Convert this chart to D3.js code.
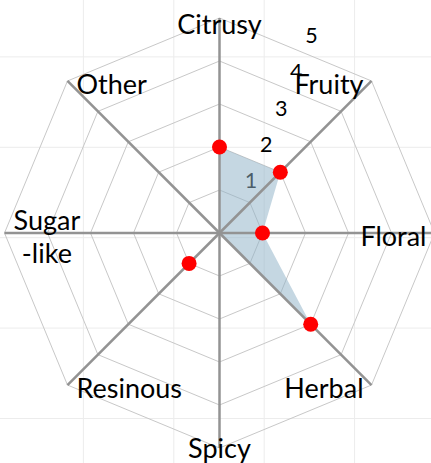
<!DOCTYPE html>
<html>
<head>
<meta charset="utf-8">
<script src="https://cdn.jsdelivr.net/npm/d3@7"></script>
<style>
  html, body { margin: 0; padding: 0; background: #fff; }
  svg { display: block; font-family: Lato, "Open Sans", sans-serif; }
</style>
</head>
<body>
<div id="chart"></div>
<script>
// flavour wheel: 8 axes, scores 0..5
const categories = ["Citrusy", "Fruity", "Floral", "Herbal", "Spicy", "Resinous", "Sugar\n-like", "Other"]
const areaValues = [2, 2, 1, 3, 0, 0, 0, 0]          // the shaded profile
const dotValues = [2, 2, 1, 3, null, 1, null, null]   // red markers (null = none)
const levels = [1, 2, 3, 4, 5]

const width = 431
const height = 463
const cx = 219.5, cy = 233
const maxValue = 5
const radius = 215

const svg = d3.select("#chart").append("svg")
    .attr("width", width)
    .attr("height", height)

// faint page grid behind everything
const bg = svg.append("g")
d3.range(-7, width, 90.4).forEach(x => {
    bg.append("line").attr("x1", x).attr("x2", x).attr("y1", 0).attr("y2", height)
})
d3.range(-33.5, height, 90.4).forEach(y => {
    bg.append("line").attr("x1", 0).attr("x2", width).attr("y1", y).attr("y2", y)
})
bg.selectAll("line").attr("stroke", "#ececec").attr("stroke-width", 1)

const r = d3.scaleLinear().domain([0, maxValue]).range([0, radius])
const angle = i => i * 2 * Math.PI / categories.length
const pt = (i, v) => [cx + r(v) * Math.sin(angle(i)), cy - r(v) * Math.cos(angle(i))]

const g = svg.append("g")

// octagon rings
g.selectAll(".ring")
    .data(levels)
    .join("polygon")
    .attr("class", "ring")
    .attr("points", l => categories.map((c, i) => pt(i, l).join(",")).join(" "))
    .attr("fill", "none")
    .attr("stroke", "#c8c8c8")
    .attr("stroke-width", 1)

// level numbers, set along the gap between first two axes
const rLabel = d3.scaleLinear().domain([0, maxValue]).range([0, 197])
const labelAngle = Math.PI / 8
g.selectAll(".level")
    .data(levels)
    .join("text")
    .attr("class", "level")
    .attr("x", l => cx + 16.5 + rLabel(l) * Math.sin(labelAngle))
    .attr("y", l => cy - 16 - rLabel(l) * Math.cos(labelAngle))
    .attr("dy", "0.36em")
    .attr("text-anchor", "middle")
    .attr("font-size", 21.5)
    .attr("fill", "#000")
    .text(d => d)

// shaded profile
g.append("path")
    .datum(areaValues)
    .attr("d", d => d3.line()(d.map((v, i) => pt(i, v))) + "Z")
    .attr("fill", "#8fb3c8")
    .attr("fill-opacity", 0.52)
    .attr("stroke", "none")

// axes
g.selectAll(".axis")
    .data(categories)
    .join("line")
    .attr("class", "axis")
    .attr("x1", cx).attr("y1", cy)
    .attr("x2", (d, i) => pt(i, maxValue)[0])
    .attr("y2", (d, i) => pt(i, maxValue)[1])
    .attr("stroke", "#939393")
    .attr("stroke-width", 2.5)

// red markers
const dots = dotValues.map((v, i) => ({ v, i })).filter(d => d.v !== null)
g.selectAll(".dot")
    .data(dots)
    .join("circle")
    .attr("class", "dot")
    .attr("cx", d => pt(d.i, d.v)[0])
    .attr("cy", d => pt(d.i, d.v)[1])
    .attr("r", 7.5)
    .attr("fill", "#ff0000")

// category labels
const lineHeight = 33
categories.forEach((name, i) => {
    const [vx, vy] = pt(i, maxValue)
    const s = Math.sin(angle(i)), c = Math.cos(angle(i))
    const lines = name.split("\n")
    const t = g.append("text")
        .attr("font-size", 27)
        .attr("fill", "#000")
    let base = vy + 13 - (lines.length - 1) * lineHeight / 2
    if (Math.abs(s) < 0.1) base += 3 * c
    lines.forEach((ln, k) => {
        t.append("tspan").attr("y", base + k * lineHeight).text(ln)
    })
    const spans = t.selectAll("tspan").nodes()
    const widths = spans.map(n => n.getComputedTextLength())
    const w = d3.max(widths)
    let left
    if (s > 0.1) left = vx - 8 - w
    else if (s < -0.1) left = vx + 9
    else left = vx - w / 2
    spans.forEach((n, k) => {
        d3.select(n).attr("x", left + w / 2).attr("text-anchor", "middle")
    })
})
</script>
</body>
</html>
